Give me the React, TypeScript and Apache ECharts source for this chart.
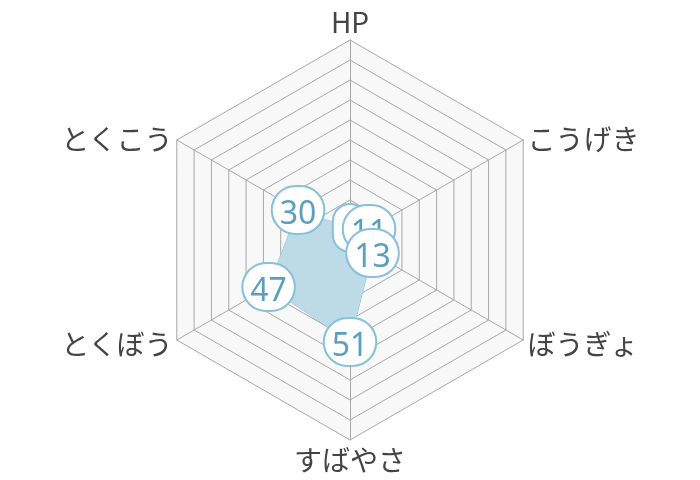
import React, { useEffect, useRef } from "react";
import * as echarts from "echarts";

const statNames = ["HP", "こうげき", "ぼうぎょ", "すばやさ", "とくぼう", "とくこう"];
const statValues = [6, 11, 13, 51, 47, 30];
const statMax = 100;

const App: React.FC = () => {
  const chartRef = useRef<HTMLDivElement>(null);

  useEffect(() => {
    if (!chartRef.current) return;
    const chart = echarts.init(chartRef.current, undefined, { renderer: "svg" });

    // radar runs counter-clockwise, the stats go clockwise
    const order = [0, 5, 4, 3, 2, 1];
    const values = order.map((i) => statValues[i]);

    const bubble = {
      color: "#5a9ec0",
      fontSize: 32,
      fontFamily: "'Noto Sans', sans-serif",
      backgroundColor: "#fff",
      borderColor: "#87c1da",
      borderWidth: 2,
      borderRadius: 25,
      padding: [8, 7, 6, 7],
      lineHeight: 32,
    };

    // label-only series, so that ぼうぎょ sits on top of こうげき like the original
    const labelSeries = (show: (name: string) => boolean) => ({
      type: "radar",
      symbol: "circle",
      symbolSize: 1,
      itemStyle: { color: "rgba(0,0,0,0)" },
      lineStyle: { opacity: 0 },
      silent: true,
      label: {
        show: true,
        position: "inside",
        formatter: (p: any) =>
          show(statNames[order[p.dimensionIndex]]) ? `{b|${p.value}}` : "",
        rich: { b: bubble },
      },
      data: [{ value: values }],
    });

    const option = {
      animation: false,
      radar: {
        center: [350, 240],
        radius: 200,
        startAngle: 90,
        splitNumber: 10,
        shape: "polygon",
        nameGap: 5,
        axisName: {
          color: "#444",
          fontSize: 28,
          fontFamily: "'Noto Sans CJK JP', 'Noto Sans', sans-serif",
        },
        indicator: order.map((i) => ({ name: statNames[i], max: statMax })),
        splitLine: { lineStyle: { color: "#a8a8a8", width: 1 } },
        splitArea: { areaStyle: { color: ["#f8f8f8"] } },
        axisLine: { lineStyle: { color: "#a8a8a8", width: 1 } },
      },
      series: [
        {
          type: "radar",
          symbol: "none",
          lineStyle: { color: "#8cc0d8", width: 1 },
          areaStyle: { color: "#bcdbe7", opacity: 1 },
          data: [{ value: values, name: "ステータス" }],
        },
        labelSeries((n) => n !== "ぼうぎょ"),
        labelSeries((n) => n === "ぼうぎょ"),
      ],
    };

    chart.setOption(option);
    return () => {
      chart.dispose();
    };
  }, []);

  return (
    <div
      ref={chartRef}
      style={{ position: "fixed", left: 0, top: 0, width: 700, height: 480 }}
    />
  );
};

export default App;
